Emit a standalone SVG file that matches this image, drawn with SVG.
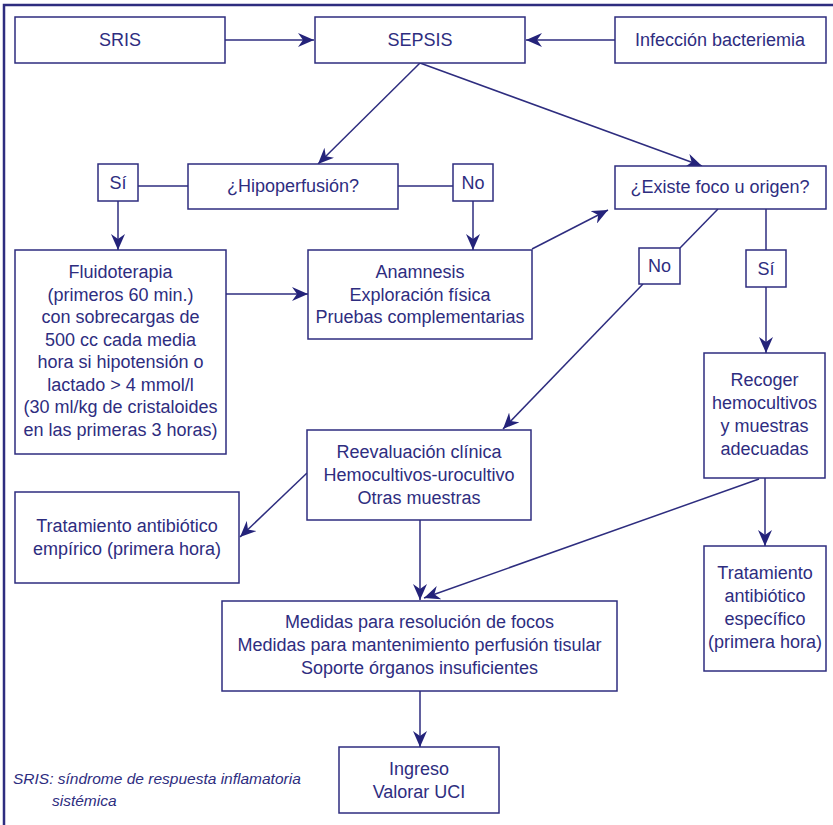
<svg xmlns="http://www.w3.org/2000/svg" width="833" height="825" viewBox="0 0 833 825">
<style>
.box{fill:#fff;stroke:#2e2d7f;stroke-width:1.5}
.t{font-family:"Liberation Sans",Arial,sans-serif;font-size:18px;fill:#2e2d7f;text-anchor:middle}
.leg{font-family:"Liberation Sans",Arial,sans-serif;font-size:15.5px;font-style:italic;fill:#2e2d7f}
.ln{fill:none;stroke:#2e2d7f;stroke-width:1.5}
</style>
<defs>
<marker id="ah" markerUnits="userSpaceOnUse" markerWidth="18" markerHeight="14" refX="16" refY="7" orient="auto">
<path d="M0,0 L16,7 L0,14 L5,7 Z" fill="#24237a"/>
</marker>
</defs>
<rect width="833" height="825" fill="#fff"/>
<path d="M4,825 V5 H833" fill="none" stroke="#2e2d7f" stroke-width="2.5"/>

<g id="connectors">
<line class="ln" x1="225" y1="40" x2="314" y2="40" marker-end="url(#ah)"/>
<line class="ln" x1="615" y1="40" x2="526" y2="40" marker-end="url(#ah)"/>
<line class="ln" x1="420" y1="63" x2="318" y2="164" marker-end="url(#ah)"/>
<line class="ln" x1="420" y1="63" x2="702" y2="166" marker-end="url(#ah)"/>
<line class="ln" x1="188" y1="186" x2="138" y2="186"/>
<line class="ln" x1="398" y1="186" x2="453" y2="186"/>
<line class="ln" x1="118" y1="201" x2="118" y2="250" marker-end="url(#ah)"/>
<line class="ln" x1="473" y1="201" x2="473" y2="250" marker-end="url(#ah)"/>
<line class="ln" x1="226" y1="294" x2="308" y2="294" marker-end="url(#ah)"/>
<line class="ln" x1="532" y1="249" x2="608" y2="210" marker-end="url(#ah)"/>
<line class="ln" x1="718" y1="209" x2="680" y2="248"/>
<line class="ln" x1="643" y1="284" x2="503" y2="429" marker-end="url(#ah)"/>
<line class="ln" x1="766" y1="209" x2="766" y2="250"/>
<line class="ln" x1="766" y1="287" x2="766" y2="353" marker-end="url(#ah)"/>
<line class="ln" x1="307" y1="473" x2="240" y2="537" marker-end="url(#ah)"/>
<line class="ln" x1="420" y1="520" x2="420" y2="600" marker-end="url(#ah)"/>
<line class="ln" x1="759" y1="479" x2="424" y2="598" marker-end="url(#ah)"/>
<line class="ln" x1="765" y1="478" x2="765" y2="546" marker-end="url(#ah)"/>
<line class="ln" x1="420" y1="691" x2="420" y2="747" marker-end="url(#ah)"/>
</g>

<g id="sris"><rect class="box" x="15" y="17" width="210" height="46"/><text class="t" x="120" y="46">SRIS</text></g>
<g id="sepsis"><rect class="box" x="315" y="17" width="210" height="46"/><text class="t" x="420" y="46">SEPSIS</text></g>
<g id="infeccion"><rect class="box" x="615" y="17" width="211" height="46"/><text class="t" x="720" y="46">Infección bacteriemia</text></g>

<g id="si1"><rect class="box" x="98" y="164" width="40" height="37"/><text class="t" x="118" y="189">Sí</text></g>
<g id="hipoperfusion"><rect class="box" x="188" y="164" width="210" height="45"/><text class="t" x="293" y="192">¿Hipoperfusión?</text></g>
<g id="no1"><rect class="box" x="453" y="164" width="40" height="37"/><text class="t" x="473" y="189">No</text></g>
<g id="existe"><rect class="box" x="615" y="166" width="211" height="43"/><text class="t" x="720" y="193">¿Existe foco u origen?</text></g>

<g id="fluidoterapia"><rect class="box" x="15" y="250" width="211" height="204"/>
<text class="t" x="120.5" y="278">Fluidoterapia</text>
<text class="t" x="120.5" y="300.5">(primeros 60 min.)</text>
<text class="t" x="120.5" y="323">con sobrecargas de</text>
<text class="t" x="120.5" y="345.5">500 cc cada media</text>
<text class="t" x="120.5" y="368">hora si hipotensión o</text>
<text class="t" x="120.5" y="390.5">lactado &gt; 4 mmol/l</text>
<text class="t" x="120.5" y="413">(30 ml/kg de cristaloides</text>
<text class="t" x="120.5" y="435.5">en las primeras 3 horas)</text>
</g>
<g id="anamnesis"><rect class="box" x="308" y="250" width="224" height="89"/>
<text class="t" x="420" y="278">Anamnesis</text>
<text class="t" x="420" y="300.5">Exploración física</text>
<text class="t" x="420" y="323">Pruebas complementarias</text>
</g>
<g id="no2"><rect class="box" x="639" y="248" width="41" height="36"/><text class="t" x="659.5" y="272">No</text></g>
<g id="si2"><rect class="box" x="746" y="250" width="40" height="37"/><text class="t" x="766" y="275">Sí</text></g>
<g id="recoger"><rect class="box" x="704" y="353" width="121" height="125"/>
<text class="t" x="764.5" y="386">Recoger</text>
<text class="t" x="764.5" y="409">hemocultivos</text>
<text class="t" x="764.5" y="432">y muestras</text>
<text class="t" x="764.5" y="455">adecuadas</text>
</g>
<g id="reevaluacion"><rect class="box" x="307" y="430" width="224" height="90"/>
<text class="t" x="419" y="458">Reevaluación clínica</text>
<text class="t" x="419" y="481">Hemocultivos-urocultivo</text>
<text class="t" x="419" y="504">Otras muestras</text>
</g>
<g id="empirico"><rect class="box" x="15" y="492" width="224" height="91"/>
<text class="t" x="127" y="532">Tratamiento antibiótico</text>
<text class="t" x="127" y="555">empírico (primera hora)</text>
</g>
<g id="especifico"><rect class="box" x="704" y="546" width="122" height="125"/>
<text class="t" x="765" y="579">Tratamiento</text>
<text class="t" x="765" y="602">antibiótico</text>
<text class="t" x="765" y="625">específico</text>
<text class="t" x="765" y="648">(primera hora)</text>
</g>
<g id="medidas"><rect class="box" x="222" y="601" width="395" height="90"/>
<text class="t" x="419.5" y="628">Medidas para resolución de focos</text>
<text class="t" x="419.5" y="651">Medidas para mantenimiento perfusión tisular</text>
<text class="t" x="419.5" y="674">Soporte órganos insuficientes</text>
</g>
<g id="ingreso"><rect class="box" x="339" y="747" width="160" height="66"/>
<text class="t" x="419" y="775">Ingreso</text>
<text class="t" x="419" y="798">Valorar UCI</text>
</g>

<g id="legend">
<text class="leg" x="13" y="784">SRIS: síndrome de respuesta inflamatoria</text>
<text class="leg" x="52" y="806">sistémica</text>
</g>
</svg>
